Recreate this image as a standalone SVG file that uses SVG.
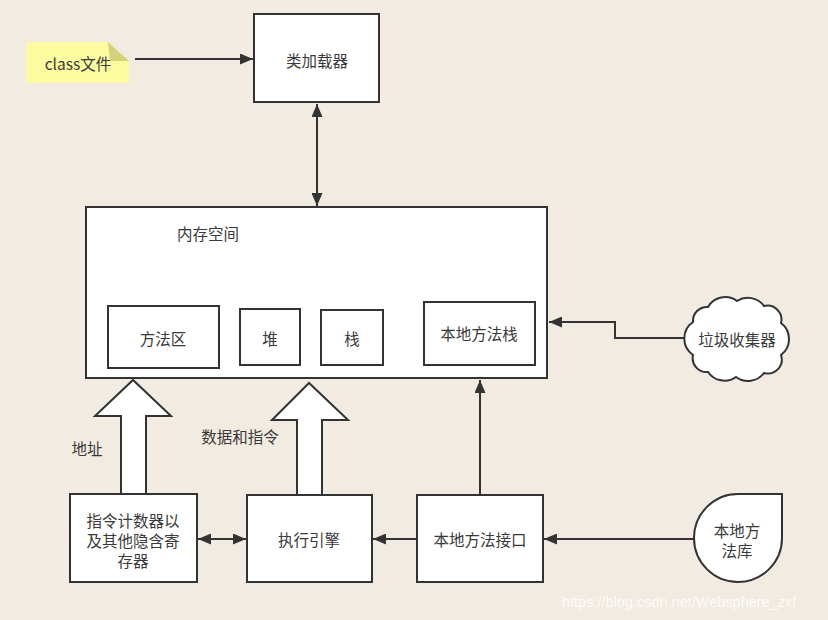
<svg xmlns="http://www.w3.org/2000/svg" width="828" height="620" viewBox="0 0 828 620">
<defs>
<marker id="ah" viewBox="0 0 13 11" refX="13" refY="5.5" markerWidth="13" markerHeight="11" orient="auto-start-reverse" markerUnits="userSpaceOnUse">
<path d="M0,0 L13,5.5 L0,11 z" fill="#333"/>
</marker>
<style>
.box{fill:#fff;stroke:#333;stroke-width:2}
.t{font-family:"Noto Sans CJK SC","Liberation Sans",sans-serif;font-size:15.5px;fill:#3a3a3a;text-anchor:middle;dominant-baseline:central}
.ln{fill:none;stroke:#333;stroke-width:2}
</style>
</defs>
<rect x="0" y="0" width="828" height="620" fill="#f2ebe1"/>

<g id="connectors">
<line class="ln" x1="135" y1="59" x2="253" y2="59" marker-end="url(#ah)"/>
<line class="ln" x1="317" y1="104" x2="317" y2="206" marker-start="url(#ah)" marker-end="url(#ah)"/>
<polyline class="ln" points="685,338 615,338 615,322 549,322" marker-end="url(#ah)"/>
<line class="ln" x1="480" y1="495" x2="480" y2="380" marker-end="url(#ah)"/>
<line class="ln" x1="694" y1="539" x2="544" y2="539" marker-end="url(#ah)"/>
<line class="ln" x1="417" y1="539" x2="373" y2="539" marker-end="url(#ah)"/>
<line class="ln" x1="198" y1="539" x2="246" y2="539" marker-start="url(#ah)" marker-end="url(#ah)"/>
<polygon class="box" points="121,494 121,416 95,416 133,380 171,416 146,416 146,494"/>
<polygon class="box" points="297,495 297,420 272,420 309,383 348,420 322,420 322,495"/>
<text class="t" x="87" y="448">地址</text>
<text class="t" x="240" y="436">数据和指令</text>
</g>

<g id="class-file">
<polygon points="26,42 108,42 129,61 129,83 26,83" fill="#fdfba0"/>
<polygon points="108,42 129,61 110,61" fill="#d6d27c"/>
<text class="t" x="78" y="63">class文件</text>
</g>

<g id="class-loader">
<rect class="box" x="254" y="14" width="125" height="88"/>
<text class="t" x="317" y="60">类加载器</text>
</g>

<g id="memory">
<rect class="box" x="86" y="207" width="461" height="171"/>
<text class="t" x="208" y="233">内存空间</text>
</g>

<g id="method-area">
<rect class="box" x="108" y="306" width="111" height="62"/>
<text class="t" x="163" y="338">方法区</text>
</g>

<g id="heap">
<rect class="box" x="240" y="309" width="60" height="56"/>
<text class="t" x="270" y="338">堆</text>
</g>

<g id="stack">
<rect class="box" x="321" y="310" width="62" height="55"/>
<text class="t" x="352" y="338">栈</text>
</g>

<g id="native-stack">
<rect class="box" x="424" y="302" width="111" height="63"/>
<text class="t" x="479" y="333">本地方法栈</text>
</g>

<g id="gc">
<path class="box" d="M693,322 A14 14 0 0 1 708,307 A20 20 0 0 1 737,301 A20 20 0 0 1 764,306 A14 14 0 0 1 781,323 A20 20 0 0 1 781,355 A14 14 0 0 1 764,373 A20 20 0 0 1 736,377 A20 20 0 0 1 708,372 A14 14 0 0 1 693,355 A20 20 0 0 1 693,322 Z"/>
<text class="t" x="737" y="339">垃圾收集器</text>
</g>

<g id="pc-register">
<rect class="box" x="70" y="494" width="127" height="88"/>
<text class="t" x="133" y="520">指令计数器以</text>
<text class="t" x="133" y="540">及其他隐含寄</text>
<text class="t" x="133" y="560">存器</text>
</g>

<g id="exec-engine">
<rect class="box" x="247" y="495" width="125" height="87"/>
<text class="t" x="309" y="539">执行引擎</text>
</g>

<g id="native-interface">
<rect class="box" x="417" y="495" width="126" height="87"/>
<text class="t" x="480" y="539">本地方法接口</text>
</g>

<g id="native-lib">
<path class="box" d="M738,494 L782,494 L782,538 A44 44 0 1 1 738,494 Z"/>
<text class="t" x="737" y="530">本地方</text>
<text class="t" x="737" y="550">法库</text>
</g>

<text x="562" y="607" font-family="Liberation Sans, sans-serif" font-size="14.5" fill="#ffffff" opacity="0.85">https://blog.csdn.net/Websphere_zxf</text>
</svg>
